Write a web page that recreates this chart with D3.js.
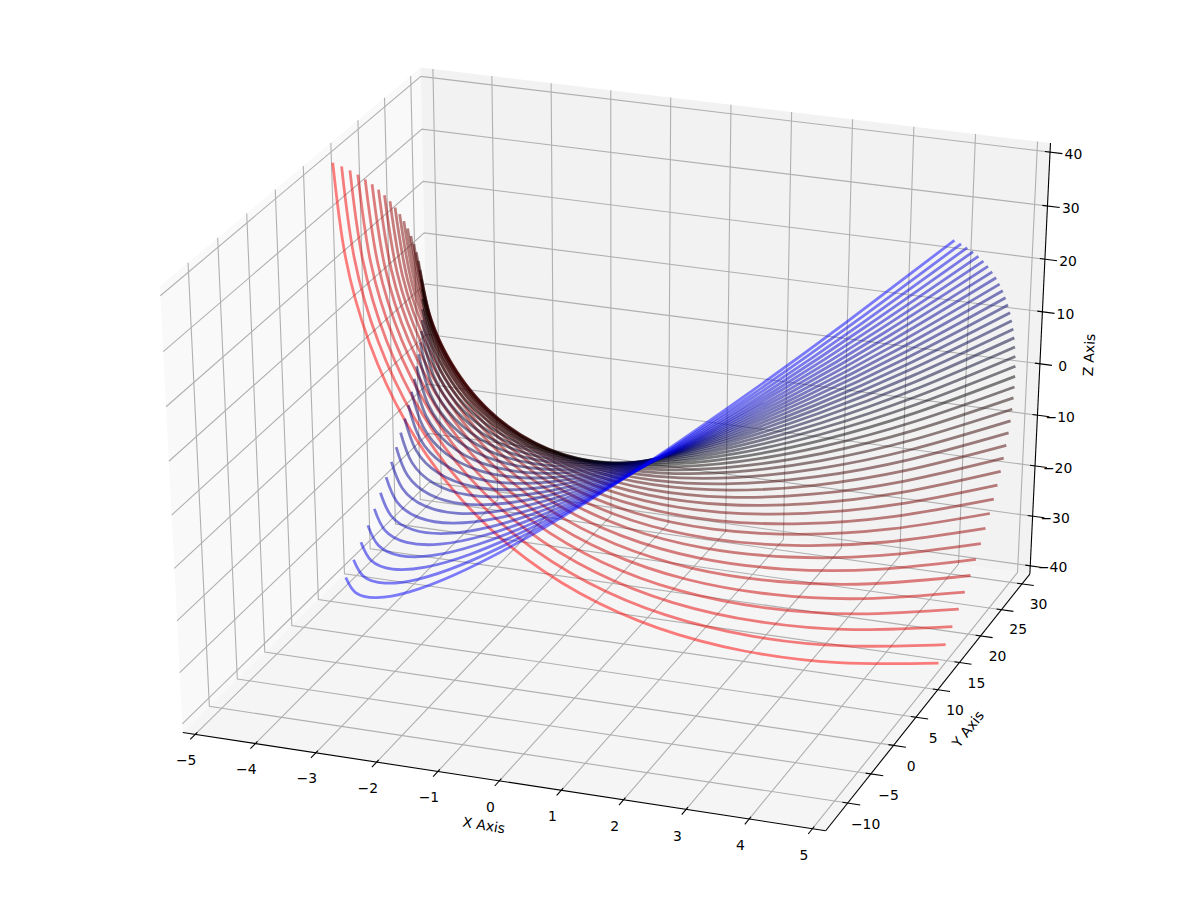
<!DOCTYPE html>
<html><head><meta charset="utf-8"><script src="https://cdn.jsdelivr.net/npm/d3@7"></script>
<style>html,body{margin:0;background:#fff}text{font-family:"DejaVu Sans";font-size:13.9px;fill:#000}</style></head>
<body><svg id="c" width="1200" height="900"></svg>
<script>
const xTicks=[-5,-4,-3,-2,-1,0,1,2,3,4,5];
const yTicks=[-10,-5,0,5,10,15,20,25,30];
const zTicks=[-40,-30,-20,-10,0,10,20,30,40];
const xSamples=[-5,-4,-3,-2,-1,0,1,2,3,4,5];
const ySeries=[
[13,4,-3,-8,-11,-12,-11,-8,-3,4,13],
[14.56,5.56,-1.44,-6.44,-9.44,-10.44,-9.44,-6.44,-1.44,5.56,14.56],
[16.04,7.04,0.04,-4.96,-7.96,-8.96,-7.96,-4.96,0.04,7.04,16.04],
[17.44,8.44,1.44,-3.56,-6.56,-7.56,-6.56,-3.56,1.44,8.44,17.44],
[18.76,9.76,2.76,-2.24,-5.24,-6.24,-5.24,-2.24,2.76,9.76,18.76],
[20,11,4,-1,-4,-5,-4,-1,4,11,20],
[21.16,12.16,5.16,0.16,-2.84,-3.84,-2.84,0.16,5.16,12.16,21.16],
[22.24,13.24,6.24,1.24,-1.76,-2.76,-1.76,1.24,6.24,13.24,22.24],
[23.24,14.24,7.24,2.24,-0.76,-1.76,-0.76,2.24,7.24,14.24,23.24],
[24.16,15.16,8.16,3.16,0.16,-0.84,0.16,3.16,8.16,15.16,24.16],
[25,16,9,4,1,0,1,4,9,16,25],
[25.76,16.76,9.76,4.76,1.76,0.76,1.76,4.76,9.76,16.76,25.76],
[26.44,17.44,10.44,5.44,2.44,1.44,2.44,5.44,10.44,17.44,26.44],
[27.04,18.04,11.04,6.04,3.04,2.04,3.04,6.04,11.04,18.04,27.04],
[27.56,18.56,11.56,6.56,3.56,2.56,3.56,6.56,11.56,18.56,27.56],
[28,19,12,7,4,3,4,7,12,19,28],
[28.36,19.36,12.36,7.36,4.36,3.36,4.36,7.36,12.36,19.36,28.36],
[28.64,19.64,12.64,7.64,4.64,3.64,4.64,7.64,12.64,19.64,28.64],
[28.84,19.84,12.84,7.84,4.84,3.84,4.84,7.84,12.84,19.84,28.84],
[28.96,19.96,12.96,7.96,4.96,3.96,4.96,7.96,12.96,19.96,28.96],
[29,20,13,8,5,4,5,8,13,20,29],
[28.96,19.96,12.96,7.96,4.96,3.96,4.96,7.96,12.96,19.96,28.96],
[28.84,19.84,12.84,7.84,4.84,3.84,4.84,7.84,12.84,19.84,28.84],
[28.64,19.64,12.64,7.64,4.64,3.64,4.64,7.64,12.64,19.64,28.64],
[28.36,19.36,12.36,7.36,4.36,3.36,4.36,7.36,12.36,19.36,28.36],
[28,19,12,7,4,3,4,7,12,19,28],
[27.56,18.56,11.56,6.56,3.56,2.56,3.56,6.56,11.56,18.56,27.56],
[27.04,18.04,11.04,6.04,3.04,2.04,3.04,6.04,11.04,18.04,27.04],
[26.44,17.44,10.44,5.44,2.44,1.44,2.44,5.44,10.44,17.44,26.44],
[25.76,16.76,9.76,4.76,1.76,0.76,1.76,4.76,9.76,16.76,25.76],
[25,16,9,4,1,0,1,4,9,16,25],
[24.16,15.16,8.16,3.16,0.16,-0.84,0.16,3.16,8.16,15.16,24.16],
[23.24,14.24,7.24,2.24,-0.76,-1.76,-0.76,2.24,7.24,14.24,23.24],
[22.24,13.24,6.24,1.24,-1.76,-2.76,-1.76,1.24,6.24,13.24,22.24],
[21.16,12.16,5.16,0.16,-2.84,-3.84,-2.84,0.16,5.16,12.16,21.16],
[20,11,4,-1,-4,-5,-4,-1,4,11,20],
[18.76,9.76,2.76,-2.24,-5.24,-6.24,-5.24,-2.24,2.76,9.76,18.76],
[17.44,8.44,1.44,-3.56,-6.56,-7.56,-6.56,-3.56,1.44,8.44,17.44],
[16.04,7.04,0.04,-4.96,-7.96,-8.96,-7.96,-4.96,0.04,7.04,16.04],
[14.56,5.56,-1.44,-6.44,-9.44,-10.44,-9.44,-6.44,-1.44,5.56,14.56],
[13,4,-3,-8,-11,-12,-11,-8,-3,4,13]
];
const zSeries=[
[40,32,24,16,8,0,-8,-16,-24,-32,-40],
[38,30.4,22.8,15.2,7.6,0,-7.6,-15.2,-22.8,-30.4,-38],
[36,28.8,21.6,14.4,7.2,0,-7.2,-14.4,-21.6,-28.8,-36],
[34,27.2,20.4,13.6,6.8,0,-6.8,-13.6,-20.4,-27.2,-34],
[32,25.6,19.2,12.8,6.4,0,-6.4,-12.8,-19.2,-25.6,-32],
[30,24,18,12,6,0,-6,-12,-18,-24,-30],
[28,22.4,16.8,11.2,5.6,0,-5.6,-11.2,-16.8,-22.4,-28],
[26,20.8,15.6,10.4,5.2,0,-5.2,-10.4,-15.6,-20.8,-26],
[24,19.2,14.4,9.6,4.8,0,-4.8,-9.6,-14.4,-19.2,-24],
[22,17.6,13.2,8.8,4.4,0,-4.4,-8.8,-13.2,-17.6,-22],
[20,16,12,8,4,0,-4,-8,-12,-16,-20],
[18,14.4,10.8,7.2,3.6,0,-3.6,-7.2,-10.8,-14.4,-18],
[16,12.8,9.6,6.4,3.2,0,-3.2,-6.4,-9.6,-12.8,-16],
[14,11.2,8.4,5.6,2.8,0,-2.8,-5.6,-8.4,-11.2,-14],
[12,9.6,7.2,4.8,2.4,0,-2.4,-4.8,-7.2,-9.6,-12],
[10,8,6,4,2,0,-2,-4,-6,-8,-10],
[8,6.4,4.8,3.2,1.6,0,-1.6,-3.2,-4.8,-6.4,-8],
[6,4.8,3.6,2.4,1.2,0,-1.2,-2.4,-3.6,-4.8,-6],
[4,3.2,2.4,1.6,0.8,0,-0.8,-1.6,-2.4,-3.2,-4],
[2,1.6,1.2,0.8,0.4,0,-0.4,-0.8,-1.2,-1.6,-2],
[0,0,0,0,0,0,0,0,0,0,0],
[-2,-1.6,-1.2,-0.8,-0.4,0,0.4,0.8,1.2,1.6,2],
[-4,-3.2,-2.4,-1.6,-0.8,0,0.8,1.6,2.4,3.2,4],
[-6,-4.8,-3.6,-2.4,-1.2,0,1.2,2.4,3.6,4.8,6],
[-8,-6.4,-4.8,-3.2,-1.6,0,1.6,3.2,4.8,6.4,8],
[-10,-8,-6,-4,-2,0,2,4,6,8,10],
[-12,-9.6,-7.2,-4.8,-2.4,0,2.4,4.8,7.2,9.6,12],
[-14,-11.2,-8.4,-5.6,-2.8,0,2.8,5.6,8.4,11.2,14],
[-16,-12.8,-9.6,-6.4,-3.2,0,3.2,6.4,9.6,12.8,16],
[-18,-14.4,-10.8,-7.2,-3.6,0,3.6,7.2,10.8,14.4,18],
[-20,-16,-12,-8,-4,0,4,8,12,16,20],
[-22,-17.6,-13.2,-8.8,-4.4,0,4.4,8.8,13.2,17.6,22],
[-24,-19.2,-14.4,-9.6,-4.8,0,4.8,9.6,14.4,19.2,24],
[-26,-20.8,-15.6,-10.4,-5.2,0,5.2,10.4,15.6,20.8,26],
[-28,-22.4,-16.8,-11.2,-5.6,0,5.6,11.2,16.8,22.4,28],
[-30,-24,-18,-12,-6,0,6,12,18,24,30],
[-32,-25.6,-19.2,-12.8,-6.4,0,6.4,12.8,19.2,25.6,32],
[-34,-27.2,-20.4,-13.6,-6.8,0,6.8,13.6,20.4,27.2,34],
[-36,-28.8,-21.6,-14.4,-7.2,0,7.2,14.4,21.6,28.8,36],
[-38,-30.4,-22.8,-15.2,-7.6,0,7.6,15.2,22.8,30.4,38],
[-40,-32,-24,-16,-8,0,8,16,24,32,40]
];
const xLim=[-5.208,5.208], yLim=[-14.68,31.93], zLim=[-41.67,41.67];
const sx=d3.scaleLinear(xLim,[-.5,.5]), sy=d3.scaleLinear(yLim,[-.5,.5]), sz=d3.scaleLinear(zLim,[-.5,.5]);
const px=d3.scaleLinear([0,1],[617,617+677]), py=d3.scaleLinear([0,1],[437.5,437.5-506]);
const el=30*Math.PI/180, az=-70*Math.PI/180, dist=10;
const n=[Math.cos(el)*Math.cos(az),Math.cos(el)*Math.sin(az),Math.sin(el)];
const r=[-Math.sin(az),Math.cos(az),0];
const u=[-Math.sin(el)*Math.cos(az),-Math.sin(el)*Math.sin(az),Math.cos(el)];
const dot=(a,b)=>a[0]*b[0]+a[1]*b[1]+a[2]*b[2];
function projN(d){const f=1/(1-dot(n,d)/dist);return [px(dot(r,d)*f),py(dot(u,d)*f)];}
function P(x,y,z,dx=0,dy=0,dz=0){return projN([sx(x)+dx,sy(y)+dy,sz(z)+dz]);}
const svg=d3.select("#c");
const [x0,x1]=xLim,[y0,y1]=yLim,[z0,z1]=zLim;
const poly=(pts,fill)=>svg.append("polygon").attr("points",pts.map(p=>p.join(",")).join(" ")).attr("fill",fill);
poly([P(x0,y0,z0),P(x0,y1,z0),P(x0,y1,z1),P(x0,y0,z1)],"#f9f9f9");
poly([P(x0,y1,z0),P(x1,y1,z0),P(x1,y1,z1),P(x0,y1,z1)],"#f2f2f2");
poly([P(x0,y0,z0),P(x1,y0,z0),P(x1,y1,z0),P(x0,y1,z0)],"#f5f5f5");
const ln=d3.line();
const path=(pts,col,w)=>svg.append("path").attr("d",ln(pts)).attr("fill","none").attr("stroke",col).attr("stroke-width",w);
xTicks.forEach(t=>path([P(t,y0,z0),P(t,y1,z0),P(t,y1,z1)],"#b0b0b0",1.1));
yTicks.forEach(t=>path([P(x1,t,z0),P(x0,t,z0),P(x0,t,z1)],"#b0b0b0",1.1));
zTicks.forEach(t=>path([P(x1,y1,t),P(x0,y1,t),P(x0,y0,t)],"#b0b0b0",1.1));
path([P(x0,y0,z0),P(x1,y0,z0)],"#000",1.1);
path([P(x1,y0,z0),P(x1,y1,z0)],"#000",1.1);
path([P(x1,y1,z0),P(x1,y1,z1)],"#000",1.1);
const tin=.008,tout=.019,lab=.037;
const fmt=v=>String(v).replace("-","\u2212");
const txt=(p,s,rot,yo=0)=>{const t=svg.append("text").attr("text-anchor","middle").attr("dominant-baseline","central").text(s);
 t.attr("transform",`translate(${p[0]},${p[1]+yo}) rotate(${rot||0})`);};
xTicks.forEach(t=>{path([P(t,y0,z0,0,tin,0),P(t,y0,z0,0,-tout,0)],"#000",1.1);txt(P(t,y0,z0,0,-lab,-lab),fmt(t));});
yTicks.forEach(t=>{path([P(x1,t,z0,-tin,0,0),P(x1,t,z0,tout,0,0)],"#000",1.1);txt(P(x1,t,z0,.028,0,-.042),fmt(t));});
zTicks.forEach(t=>{path([P(x1,y1,t,-tin,0,0),P(x1,y1,t,tout,0,0)],"#000",1.1);txt(P(x1,y1,t,.025,.037,0),fmt(t),0,8);});
txt([484,825],"X Axis",9.5);
txt([968,729],"Y Axis",-52);
txt([1089,355],"Z Axis",-87);
const ramp=d3.scaleLinear([0,(ySeries.length-1)/2,ySeries.length-1],["#f00","#000","#00f"]);
const cur=d3.line().curve(d3.curveNatural);
ySeries.forEach((ys,i)=>{
 const pts=xSamples.map((x,j)=>P(x,ys[j],zSeries[i][j]));
 svg.append("path").attr("d",cur(pts)).attr("fill","none").attr("stroke",ramp(i)).attr("stroke-opacity",.5).attr("stroke-width",2.78);
});
</script></body></html>
